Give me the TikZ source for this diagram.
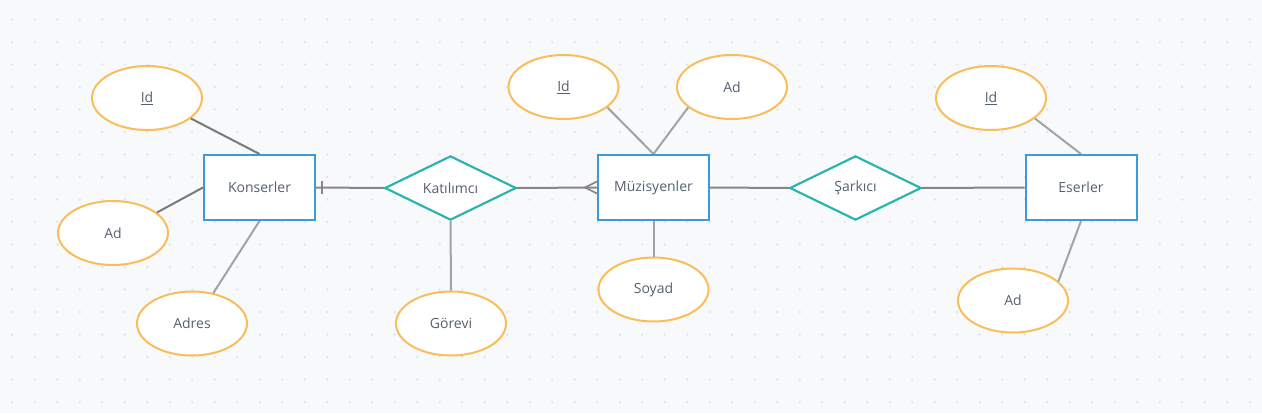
\documentclass[tikz,border=0pt]{standalone}
\usepackage{fontspec}
\setmainfont{Open Sans}
\usetikzlibrary{shapes.geometric,calc}
\definecolor{bgc}{HTML}{F8F9FB}
\definecolor{dotc}{HTML}{E3E5E9}
\definecolor{entc}{HTML}{3D99D8}
\definecolor{relc}{HTML}{2BB3AD}
\definecolor{attc}{HTML}{F9BD5B}
\definecolor{txtc}{HTML}{56606F}
\definecolor{darkln}{HTML}{7A7A7A}
\definecolor{lightln}{HTML}{A3A3A3}
\tikzset{
  every node/.style={font=\fontsize{14}{16}\selectfont, text=txtc},
  entity/.style={draw=entc, fill=white, line width=2pt, rectangle, minimum width=111pt, minimum height=65pt, inner sep=0pt},
  relation/.style={draw=relc, fill=white, line width=2pt, diamond, aspect=2, minimum width=131pt, minimum height=64pt, inner sep=0pt},
  attrib/.style={draw=attc, fill=white, line width=2pt, ellipse, minimum width=110pt, minimum height=64pt, inner sep=0pt},
  darkconn/.style={draw=darkln, line width=2pt},
  lightconn/.style={draw=lightln, line width=2pt},
  relconn/.style={draw=darkln!90!white, line width=2pt},
}
\begin{document}
\begin{tikzpicture}[x=1pt,y=-1pt]
\fill[bgc] (0,0) rectangle (1262,413);
\useasboundingbox (0,0) rectangle (1262,413);
\foreach \i in {0,...,55}{\foreach \j in {0,...,17}{\fill[dotc] ({12.2+\i*22.5},{19.5+\j*22.5}) circle (1.4);}}

\node[entity] (kon) at (259.5,187.5) {Konserler};
\node[relation] (kat) at (450.5,188) {Katılımcı};
\node[entity] (mz) at (653.5,187.5) {Müzisyenler};
\node[relation] (sar) at (855.5,188) {Şarkıcı};
\node[entity] (es) at (1081,187.5) {Eserler};

\node[attrib] (kid) at (147,98) {\underline{Id}};
\node[attrib] (kad) at (113,233) {Ad};
\node[attrib] (kadres) at (192,323.5) {Adres};
\node[attrib] (gor) at (451,323.5) {Görevi};
\node[attrib] (mid) at (563.5,87) {\underline{Id}};
\node[attrib] (mad) at (732,87) {Ad};
\node[attrib] (soy) at (653.5,289.5) {Soyad};
\node[attrib] (eid) at (991,98) {\underline{Id}};
\node[attrib] (ead) at (1013,300.5) {Ad};

\draw[darkconn] (kid.-25) -- (kon.north);
\draw[darkconn] (kad.25) -- (kon.west);
\draw[lightconn] (kadres.55) -- (kon.south);
\draw[lightconn] (gor.north) -- (kat.south);
\draw[lightconn] (mid.-25) -- (mz.north);
\draw[lightconn] (mad.205) -- (mz.north);
\draw[lightconn] (soy.north) -- (mz.south);
\draw[lightconn] (eid.-25) -- (es.north);
\draw[lightconn] (ead.23) -- (es.south);

\draw[relconn] (kon.east) -- (kat.west);
\draw[relconn] (kat.east) -- (mz.west);
\draw[relconn] (mz.east) -- (sar.west);
\draw[relconn] (sar.east) -- (es.west);

\coordinate (barT) at ($(kon.east)+(6,-6.5)$);
\coordinate (barB) at ($(kon.east)+(6,6.5)$);
\draw[relconn, line width=1.6pt] (barT) -- (barB);
\coordinate (cfA) at ($(mz.west)+(-12,0)$);
\coordinate (cfU) at ($(mz.west)+(0,-6)$);
\coordinate (cfD) at ($(mz.west)+(0,6)$);
\draw[relconn, line width=1.6pt] (cfU) -- (cfA) -- (cfD);

\node[entity] at (kon) {Konserler};
\node[entity] at (mz) {Müzisyenler};
\node[entity] at (es) {Eserler};
\node[relation] at (kat) {Katılımcı};
\node[relation] at (sar) {Şarkıcı};
\end{tikzpicture}
\end{document}
